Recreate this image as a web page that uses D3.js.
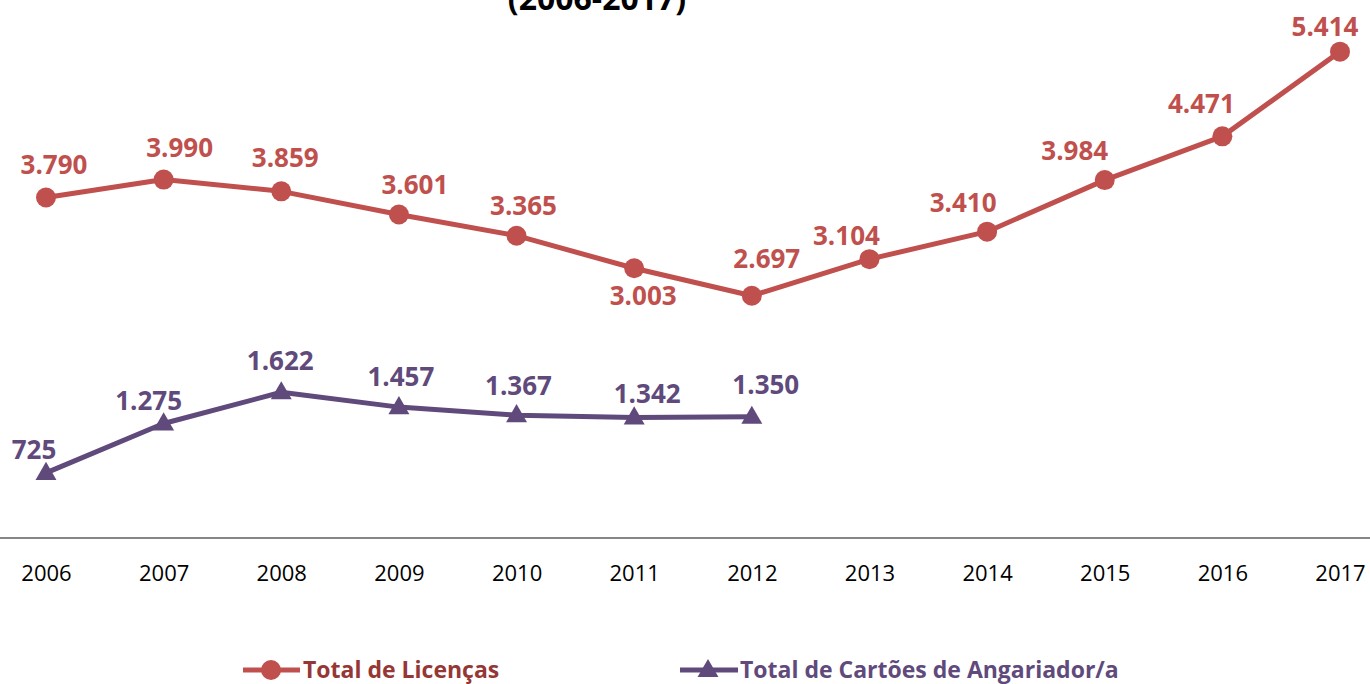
<!DOCTYPE html>
<html>
<head>
<meta charset="utf-8">
<script src="https://cdn.jsdelivr.net/npm/d3@7"></script>
<style>
  body { margin: 0; background: #fff; }
  svg { display: block; font-family: "Open Sans", sans-serif; }
</style>
</head>
<body>
<svg id="chart"></svg>
<script>
// dados
const years = [2006, 2007, 2008, 2009, 2010, 2011, 2012, 2013, 2014, 2015, 2016, 2017];
const licencas = [3790, 3990, 3859, 3601, 3365, 3003, 2697, 3104, 3410, 3984, 4471, 5414];
const cartoes = [725, 1275, 1622, 1457, 1367, 1342, 1350];
const seriesNames = ["Total de Licenças", "Total de Cartões de Angariador/a"];

// deslocamentos das etiquetas (como no original)
const licLabelShift = [[8, -33], [16, -32], [4, -34], [16, -30], [7, -30], [9, 27], [15, -37], [-23, -24], [-24, -29], [-30, -29], [-21, -33], [-15, -25]];
const cartLabelShift = [[-12, -23], [-15, -23], [-1, -32], [2, -30], [2, -30], [13, -24], [14, -32]];

const width = 1370, height = 684;
const red = "#C0504D", purple = "#604A7B";

const svg = d3.select("#chart").attr("width", width).attr("height", height);

const x = d3.scalePoint().domain(years).range([46, 1340]);
const y = d3.scaleLinear().domain([0, 6000]).range([538, -1]);
const fmt = v => v >= 1000 ? d3.format(",")(v).replace(",", ".") : String(v);

// titulo (cortado no topo)
svg.append("text")
  .attr("x", 597).attr("y", 10)
  .attr("text-anchor", "middle")
  .style("font-weight", "bold").style("font-size", "32px")
  .text("(2006-2017)");

// eixo x
const xAxis = svg.append("g").attr("transform", `translate(0,${y(0)})`)
  .call(d3.axisBottom(x).tickSize(0).tickPadding(27));
xAxis.select(".domain").attr("d", `M0,0H${width}`).attr("stroke", "#868686").attr("stroke-width", 2);
xAxis.selectAll("text").style("font-size", "22px").style("font-family", "Open Sans").attr("fill", "#000");

const line = d3.line().x((d, i) => x(years[i])).y(d => y(d));

// linha licencas
svg.append("path").datum(licencas)
  .attr("d", line).attr("fill", "none")
  .attr("stroke", red).attr("stroke-width", 5).attr("stroke-linejoin", "round");
svg.selectAll(".dot").data(licencas).join("circle")
  .attr("class", "dot")
  .attr("cx", (d, i) => x(years[i])).attr("cy", d => y(d))
  .attr("r", 10).attr("fill", red);
svg.selectAll(".lab-lic").data(licencas).join("text")
  .attr("class", "lab-lic")
  .attr("x", (d, i) => x(years[i]) + licLabelShift[i][0])
  .attr("y", (d, i) => y(d) + licLabelShift[i][1])
  .attr("dy", "0.36em")
  .attr("text-anchor", "middle")
  .attr("fill", red).style("font-weight", "bold").style("font-size", "26px")
  .text(fmt);

// linha cartoes
const tri = d3.symbol().type(d3.symbolTriangle).size(190);
svg.append("path").datum(cartoes)
  .attr("d", line).attr("fill", "none")
  .attr("stroke", purple).attr("stroke-width", 5).attr("stroke-linejoin", "round");
svg.selectAll(".tri").data(cartoes).join("path")
  .attr("class", "tri")
  .attr("d", tri)
  .attr("transform", (d, i) => `translate(${x(years[i])},${y(d) + 1})`)
  .attr("fill", purple);
svg.selectAll(".lab-cart").data(cartoes).join("text")
  .attr("class", "lab-cart")
  .attr("x", (d, i) => x(years[i]) + cartLabelShift[i][0])
  .attr("y", (d, i) => y(d) + cartLabelShift[i][1])
  .attr("dy", "0.36em")
  .attr("text-anchor", "middle")
  .attr("fill", purple).style("font-weight", "bold").style("font-size", "26px")
  .text(fmt);

// legenda
const legend = svg.append("g").attr("transform", "translate(0,670)");
const leg1 = legend.append("g").attr("transform", "translate(243,0)");
leg1.append("line").attr("x1", 0).attr("x2", 57).attr("stroke", red).attr("stroke-width", 5);
leg1.append("circle").attr("cx", 28).attr("r", 10).attr("fill", red);
leg1.append("text").attr("x", 60).attr("dy", "0.36em")
  .attr("fill", "#953735").style("font-weight", "bold").style("font-size", "23px")
  .text(seriesNames[0]);

const leg2 = legend.append("g").attr("transform", "translate(680,0)");
leg2.append("line").attr("x1", 0).attr("x2", 58).attr("stroke", purple).attr("stroke-width", 5);
leg2.append("path").attr("d", tri).attr("transform", "translate(28,1)").attr("fill", purple);
leg2.append("text").attr("x", 60).attr("dy", "0.36em")
  .attr("fill", purple).style("font-weight", "bold").style("font-size", "23px")
  .text(seriesNames[1]);
</script>
</body>
</html>
